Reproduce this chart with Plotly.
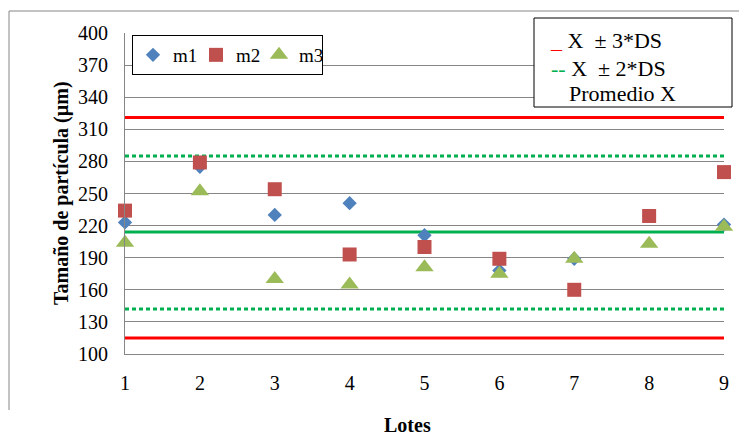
import plotly.graph_objects as go

# ---- data ----
lotes = [1, 2, 3, 4, 5, 6, 7, 8, 9]
m1 = [223, 275, 230, 241, 211, 178, 189, 229, 221]
m2 = [234, 279, 254, 193, 200, 189, 160, 229, 270]
m3 = [204, 252, 170, 165, 181, 175, 189, 203, 219]

promedio = 214
lim3_sup = 321
lim3_inf = 115
lim2_sup = 285
lim2_inf = 142

y_ticks = [100, 130, 160, 190, 220, 250, 280, 310, 340, 370, 400]

FONT = "Liberation Serif, Times New Roman, serif"

# the page body adds an 8px offset; lay the figure out in page coordinates
OFF = 8
W, H = 747 - OFF, 435 - OFF
PL, PR, PT, PB = 125, 724, 33, 354          # plot area in page pixels
ML, MR, MT, MB = PL - OFF, W - (PR - OFF), PT - OFF, H - (PB - OFF)
PW, PH = W - ML - MR, H - MT - MB


def px(x):
    return (x - OFF - ML) / PW


def py(y):
    return (H - MB - (y - OFF)) / PH


fig = go.Figure()


def hline(v, color, dash, name):
    fig.add_trace(go.Scatter(x=[lotes[0], lotes[-1]], y=[v, v], mode="lines",
                             line=dict(color=color, width=3, dash=dash),
                             showlegend=False, hoverinfo="skip", name=name))


hline(lim3_sup, "#FF0000", "solid", "X + 3*DS")
hline(lim3_inf, "#FF0000", "solid", "X - 3*DS")
hline(lim2_sup, "#00B050", "4px,3px", "X + 2*DS")
hline(lim2_inf, "#00B050", "4px,3px", "X - 2*DS")
hline(promedio, "#00B050", "solid", "Promedio X")

fig.add_trace(go.Scatter(x=lotes, y=m1, mode="markers", name="m1", cliponaxis=False,
                         marker=dict(symbol="diamond", size=11, color="#4F81BD")))
fig.add_trace(go.Scatter(x=lotes, y=m2, mode="markers", name="m2", cliponaxis=False,
                         marker=dict(symbol="square", size=14, color="#C0504D")))
fig.add_trace(go.Scatter(x=lotes, y=m3, mode="markers", name="m3", cliponaxis=False,
                         marker=dict(symbol="triangle-up", size=16, color="#9BBB59")))

shapes = [
    dict(type="line", xref="paper", yref="paper", x0=px(9), x1=px(760), y0=py(11), y1=py(11),
         line=dict(color="#868686", width=1)),
    dict(type="line", xref="paper", yref="paper", x0=px(9), x1=px(9), y0=py(11), y1=py(410),
         line=dict(color="#868686", width=1)),
    dict(type="rect", xref="paper", yref="paper", x0=px(534), x1=px(732), y0=py(107), y1=py(18),
         fillcolor="white", line=dict(color="black", width=1), layer="above"),
]

afont = dict(family=FONT, size=22, color="black")
annotations = [
    dict(xref="paper", yref="paper", x=px(548), y=py(40), xanchor="left", yanchor="middle",
         text="<span style='color:#FF0000'>_</span> X&nbsp;&nbsp;± 3*DS", showarrow=False,
         font=afont),
    dict(xref="paper", yref="paper", x=px(549), y=py(68), xanchor="left", yanchor="middle",
         text="<span style='color:#00B050'>--</span> X&nbsp;&nbsp;± 2*DS", showarrow=False,
         font=afont),
    dict(xref="paper", yref="paper", x=px(567), y=py(93), xanchor="left", yanchor="middle",
         text="Promedio X", showarrow=False, font=afont),
    # axis titles
    dict(xref="paper", yref="paper", x=px(407), y=py(425), xanchor="center", yanchor="middle",
         text="<b>Lotes</b>", showarrow=False, font=dict(family=FONT, size=20, color="black")),
    dict(xref="paper", yref="paper", x=px(61), y=py(193), xanchor="center", yanchor="middle",
         text="<b>Tamaño de partícula (µm)</b>", textangle=-90, showarrow=False,
         font=dict(family=FONT, size=20, color="black")),
]

fig.update_layout(
    width=W, height=H,
    margin=dict(l=ML, r=MR, t=MT, b=MB, pad=0),
    paper_bgcolor="white", plot_bgcolor="white",
    font=dict(family=FONT, size=20, color="black"),
    shapes=shapes, annotations=annotations,
    showlegend=True,
    legend=dict(orientation="h", x=px(132), y=py(35), xanchor="left", yanchor="top",
                bordercolor="black", borderwidth=1, bgcolor="white",
                font=dict(family=FONT, size=19), itemwidth=30, entrywidth=18,
                tracegroupgap=0),
    xaxis=dict(range=[1, 9], tickvals=lotes, showgrid=False, zeroline=False,
               showline=True, linecolor="#868686", linewidth=1,
               ticks="", ticklabelstandoff=11),
    yaxis=dict(range=[100, 400], tickvals=y_ticks, showgrid=True, gridcolor="#868686",
               gridwidth=1, zeroline=False, showline=True, linecolor="#868686", linewidth=1,
               ticks="", ticklabelstandoff=12),
)

fig.write_html("out.html")
